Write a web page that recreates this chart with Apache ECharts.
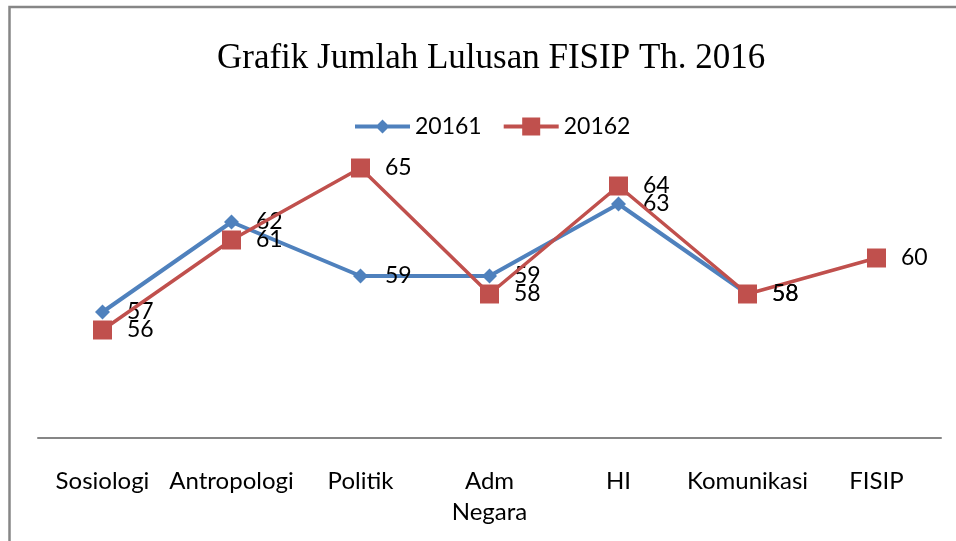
<!DOCTYPE html>
<html>
<head>
<meta charset="utf-8">
<script src="https://cdn.jsdelivr.net/npm/echarts@6/dist/echarts.min.js"></script>
<style>
html,body{margin:0;padding:0;background:#fff;}
#chart{width:956px;height:541px;}
</style>
</head>
<body>
<div id="chart"></div>
<script>
var titleText = 'Grafik Jumlah Lulusan FISIP Th. 2016';
var categories = ['Sosiologi', 'Antropologi', 'Politik', 'Adm Negara', 'HI', 'Komunikasi', 'FISIP'];
var seriesNames = ['20161', '20162'];
var values20161 = [57, 62, 59, 59, 63, 58, null];
var values20162 = [56, 61, 65, 58, 64, 58, 60];

var blueIcon = 'path://M27.5,0L27.5,18L27.5,0Z M0,7L55,7L55,11L0,11Z M27.5,2L34.5,9L27.5,16L20.5,9Z';
var redIcon = 'path://M0,7L55,7L55,11L0,11Z M18.5,0L36.5,0L36.5,18L18.5,18Z';

var chart = echarts.init(document.getElementById('chart'), null, {renderer: 'canvas'});
var labelFont = {fontFamily: 'Lato', fontSize: 23, color: '#000'};
chart.setOption({
  animation: false,
  backgroundColor: '#fff',
  title: {
    text: titleText,
    left: 212,
    top: 36,
    textStyle: {fontFamily: 'Liberation Serif', fontSize: 35, fontWeight: 'normal', color: '#000'}
  },
  legend: {
    left: 355,
    top: 115,
    padding: 0,
    itemWidth: 55,
    itemHeight: 18,
    itemGap: 22,
    itemStyle: {borderWidth: 0},
    textStyle: {fontFamily: 'Lato', fontSize: 23, color: '#000'},
    data: [
      {name: seriesNames[0], icon: blueIcon},
      {name: seriesNames[1], icon: redIcon}
    ]
  },
  grid: {left: 38, right: 15, top: 78, bottom: 103, containLabel: false},
  xAxis: {
    type: 'category',
    data: categories,
    boundaryGap: true,
    axisLine: {lineStyle: {color: '#868686', width: 2}},
    axisTick: {show: false},
    axisLabel: {
      fontFamily: 'Lato', fontSize: 24, color: '#000', margin: 28, lineHeight: 31,
      interval: 0,
      formatter: function (v) { return v.replace(' ', '\n'); }
    }
  },
  yAxis: {
    type: 'value', min: 50, max: 70, interval: 5,
    show: false,
    splitLine: {show: false}
  },
  graphic: [{
    type: 'rect',
    shape: {x: 9.5, y: 7, width: 1000, height: 600},
    style: {fill: null, stroke: '#868686', lineWidth: 2.5},
    silent: true
  }],
  series: [
    {
      name: seriesNames[0], type: 'line', data: values20161,
      symbol: 'diamond', symbolSize: 15,
      itemStyle: {color: '#4F81BD'},
      lineStyle: {color: '#4F81BD', width: 4},
      label: Object.assign({show: true, position: 'right', distance: 17}, labelFont),
      z: 2
    },
    {
      name: seriesNames[1], type: 'line', data: values20162,
      symbol: 'rect', symbolSize: 19,
      itemStyle: {color: '#C0504D'},
      lineStyle: {color: '#C0504D', width: 3.5},
      label: Object.assign({show: true, position: 'right', distance: 15}, labelFont),
      z: 3
    }
  ]
});
</script>
</body>
</html>
